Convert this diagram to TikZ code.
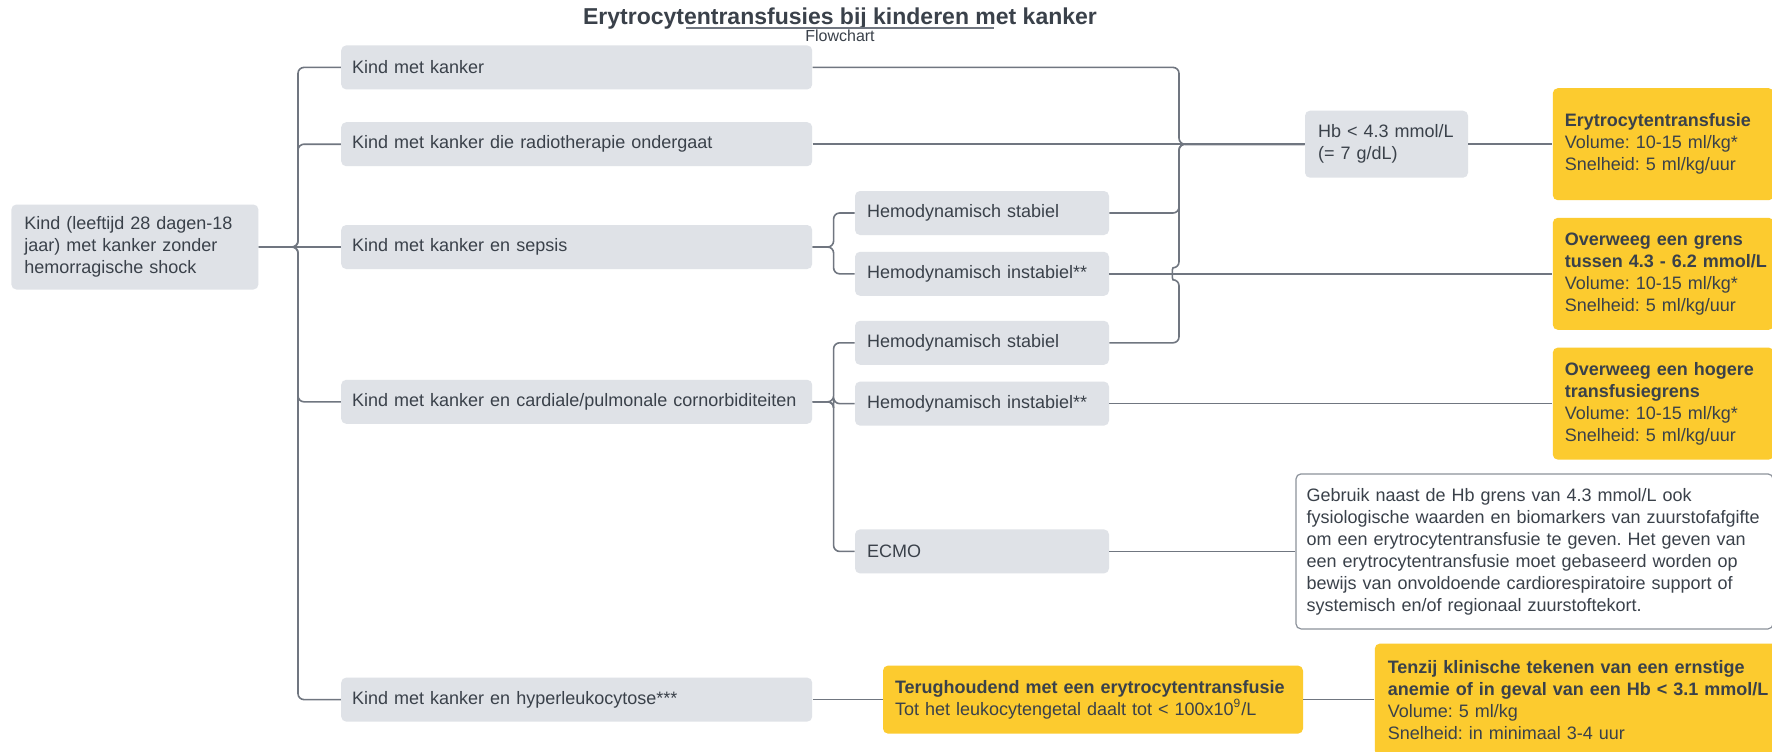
\documentclass[tikz,border=0pt]{standalone}
\usepackage{fontspec}
\setmainfont{Liberation Sans}
\usetikzlibrary{positioning}
\definecolor{lcgray}{RGB}{223,226,231}
\definecolor{lcyellow}{RGB}{252,203,47}
\definecolor{lctext}{RGB}{58,65,74}
\definecolor{lcline}{RGB}{112,118,128}
\definecolor{lcborder}{RGB}{140,146,155}
\frenchspacing

\begin{document}
\begin{tikzpicture}[x=0.5pt,y=-0.5pt,font=\fontsize{9}{11}\selectfont,text=lctext,
      greybox/.style={fill=lcgray,rounded corners=2.5pt,align=left,inner ysep=0pt,inner xsep=6pt},
      cond/.style={greybox,text width=224.5pt,inner xsep=5.5pt,minimum height=22pt},
      hemo/.style={greybox,text width=115pt,minimum height=22pt},
      advice/.style={fill=lcyellow,rounded corners=2.5pt,align=left,inner ysep=0pt,inner xsep=6pt,text width=98.5pt,minimum height=56pt},
      conn/.style={draw=lcline,line width=0.8pt,rounded corners=3pt}]
      \useasboundingbox[fill=white] (0,0) rectangle (1772,751);
      \clip (0,0) rectangle (1772,751);
      \node[font=\bfseries\fontsize{11.5}{13}\selectfont] (title) at (840,19) {Erytrocytentransfusies bij kinderen met kanker};
      \node[font=\fontsize{8}{9}\selectfont] (sub) at (840,36) {Flowchart};
      \draw[lcline,line width=0.6pt] (686,28) -- (994,28);
      \node[greybox,text width=110.5pt,inner xsep=6.5pt,minimum height=42.5pt,anchor=west] (kind) at (11,247)
        {Kind (leeftijd 28 dagen-18\\jaar) met kanker zonder\\hemorragische shock};
      \node[cond,right=41pt of kind] (k3) {Kind met kanker en sepsis};
      \node[cond,above=29pt of k3] (k2) {Kind met kanker die radiotherapie ondergaat};
      \node[cond,above=16pt of k2] (k1) {Kind met kanker};
      \node[cond,below=55pt of k3] (k4) {Kind met kanker en cardiale/pulmonale cornorbiditeiten};
      \node[cond,below=126.5pt of k4] (k5) {Kind met kanker en hyperleukocytose***};
      \node[hemo,right=21pt of k3,yshift=17pt] (s1) {Hemodynamisch stabiel};
      \node[hemo,below=8pt of s1] (s2) {Hemodynamisch instabiel**};
      \node[hemo,right=21pt of k4,yshift=29.5pt] (c1) {Hemodynamisch stabiel};
      \node[hemo,below=8pt of c1] (c2) {Hemodynamisch instabiel**};
      \node[hemo,below=51.5pt of c2] (c3) {ECMO};
      \node[greybox,text width=68.5pt,inner xsep=6.5pt,minimum height=33.5pt,right=246pt of k2] (hb) {Hb < 4.3 mmol/L\\(= 7 g/dL)};
      \node[advice,right=42pt of hb] (a1) {\textbf{Erytrocytentransfusie}\\Volume: 10-15 ml/kg*\\Snelheid: 5 ml/kg/uur};
      \node[advice,right=221.5pt of s2] (a2) {\textbf{Overweeg een grens}\\\mbox{\textbf{tussen 4.3 - 6.2 mmol/L}}\\Volume: 10-15 ml/kg*\\Snelheid: 5 ml/kg/uur};
      \node[advice,right=221.5pt of c2] (a3) {\textbf{Overweeg een hogere}\\\textbf{transfusiegrens}\\Volume: 10-15 ml/kg*\\Snelheid: 5 ml/kg/uur};
      \node[draw=lcborder,line width=0.6pt,fill=white,rounded corners=2.5pt,align=left,inner ysep=0pt,inner xsep=5.25pt,text width=228pt,minimum height=77.5pt,right=93pt of c3] (note)
        {Gebruik naast de Hb grens van 4.3 mmol/L ook\\fysiologische waarden en biomarkers van zuurstofafgifte\\om een erytrocytentransfusie te geven. Het geven van\\een erytrocytentransfusie moet gebaseerd worden op\\bewijs van onvoldoende cardiorespiratoire support of\\systemisch en/of regionaal zuurstoftekort.};
      \node[advice,text width=198pt,minimum height=34pt,right=35pt of k5] (t1) {\textbf{Terughoudend met een erytrocytentransfusie}\\Tot het leukocytengetal daalt tot < 100x10\textsuperscript{9}/L};
      \node[advice,text width=196pt,inner xsep=6.5pt,right=35.5pt of t1] (t2) {\textbf{Tenzij klinische tekenen van een ernstige}\\\textbf{anemie of in geval van een Hb < 3.1 mmol/L}\\Volume: 5 ml/kg\\Snelheid: in minimaal 3-4 uur};
      \coordinate (trunk) at (298,0);
      \coordinate (bus) at (1179,0);
      \coordinate (hop) at (s2.east -| bus);
      \draw[conn] (kind.east) -- (kind.east -| trunk) |- (k1.west);
      \draw[conn] (kind.east) -- (kind.east -| trunk) |- (k2.west);
      \draw[conn] (kind.east) -- (k3.west);
      \draw[conn] (kind.east) -- (kind.east -| trunk) |- (k4.west);
      \draw[conn] (kind.east) -- (kind.east -| trunk) |- (k5.west);
      \draw[conn] (k3.east) -- ++(21,0) |- (s1.west);
      \draw[conn] (k3.east) -- ++(21,0) |- (s2.west);
      \draw[conn] (k4.east) -- ++(21,0) |- (c1.west);
      \draw[conn] (k4.east) -- ++(21,0) |- (c2.west);
      \draw[conn] (k4.east) -- ++(21,0) |- (c3.west);
      \draw[conn] (k1.east) -- (k1.east -| bus) |- (hb.west);
      \draw[conn] (k2.east) -- (hb.west);
      \draw[conn] (s1.east) -- (s1.east -| bus) |- (hb.west);
      \draw[conn] (c1.east) -- (c1.east -| bus) -- ([yshift=-3pt]hop) .. controls +(-7,0) and +(-7,0) .. ([yshift=3pt]hop) |- (hb.west);
      \draw[conn] (hb.east) -- (a1.west);
      \draw[conn] (s2.east) -- (a2.west);
      \draw[conn] (c2.east) -- (a3.west);
      \draw[conn] (c3.east) -- (note.west);
      \draw[conn] (k5.east) -- (t1.west);
      \draw[conn] (t1.east) -- (t2.west);
    \end{tikzpicture}
\end{document}
